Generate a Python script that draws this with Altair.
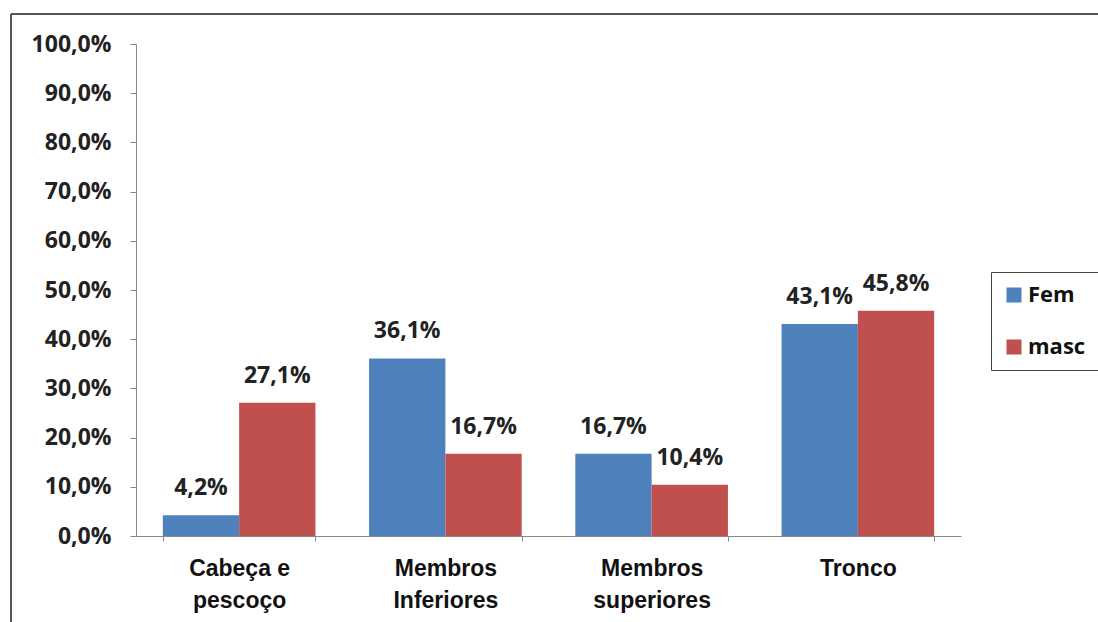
import altair as alt
import pandas as pd

categories = ["Cabeça e pescoço", "Membros Inferiores", "Membros superiores", "Tronco"]
series = ["Fem", "masc"]
fem = [0.042, 0.361, 0.167, 0.431]
masc = [0.271, 0.167, 0.104, 0.458]
colors = ["#4F81BD", "#C0504D"]

rows = []
for i, c in enumerate(categories):
    rows.append({"cat": c, "sexo": "Fem", "v": fem[i]})
    rows.append({"cat": c, "sexo": "masc", "v": masc[i]})
df = pd.DataFrame(rows)

FONT = "Liberation Sans"
NUMFONT = "Open Sans"

x = alt.X("cat:N", sort=categories, title=None,
          scale=alt.Scale(paddingInner=0.26, paddingOuter=0.13),
          axis=alt.Axis(labelAngle=0, labelFont=FONT, labelFontSize=23, labelFontWeight="bold",
                        labelColor="#111", labelPadding=16, labelLineHeight=32,
                        labelExpr="indexof(datum.label,' ')<0 ? datum.label : [slice(datum.label,0,lastindexof(datum.label,' ')), slice(datum.label,lastindexof(datum.label,' ')+1)]",
                        tickBand="extent", tickSize=5, tickColor="#888", domainColor="#888",
                        grid=False))
xo = alt.XOffset("sexo:N", sort=series)

bars = alt.Chart(df).mark_bar().encode(
    x=x, xOffset=xo,
    y=alt.Y("v:Q", title=None,
            scale=alt.Scale(domain=[0, 1]),
            axis=alt.Axis(values=[i / 10 for i in range(11)], grid=False,
                          labelExpr="replace(format(datum.value,'.1%'),'.',',')",
                          labelFont=NUMFONT, labelFontSize=23, labelFontWeight="bold",
                          labelColor="#222", labelPadding=19, tickSize=6,
                          tickColor="#888", domainColor="#888")),
    color=alt.Color("sexo:N", sort=series, scale=alt.Scale(domain=series, range=colors),
                    legend=alt.Legend(title=None, orient="none", legendX=855, legendY=228,
                                      symbolType="square", symbolSize=225, symbolStrokeWidth=0,
                                      labelFont=NUMFONT, labelFontSize=22, labelFontWeight="bold",
                                      labelColor="#111", rowPadding=30, padding=12,
                                      strokeColor="#444", labelOffset=3)),
)

labels = alt.Chart(df).transform_calculate(
    lab="replace(format(datum.v,'.1%'),'.',',')"
).mark_text(baseline="alphabetic", dy=-20, font=NUMFONT, fontSize=23, fontWeight="bold", color="#222").encode(
    x=alt.X("cat:N", sort=categories), xOffset=xo, y="v:Q", text="lab:N"
)

frame_left = alt.Chart(df).mark_rule(color="#555", strokeWidth=2).encode(
    x=alt.value(-125), y=alt.value(-30), y2=alt.value(580))
frame_top = alt.Chart(df).mark_rule(color="#555", strokeWidth=2).encode(
    x=alt.value(-125), x2=alt.value(965), y=alt.value(-30))

chart = alt.layer(bars, labels, frame_left, frame_top).properties(
    width=825, height=492,
    autosize=alt.AutoSizeParams(type="none"),
    padding={"left": 136, "top": 44, "right": 137, "bottom": 86},
    background="white",
).configure_view(stroke=None)

chart.save("out.html", embed_options={"renderer": "svg", "actions": False})
